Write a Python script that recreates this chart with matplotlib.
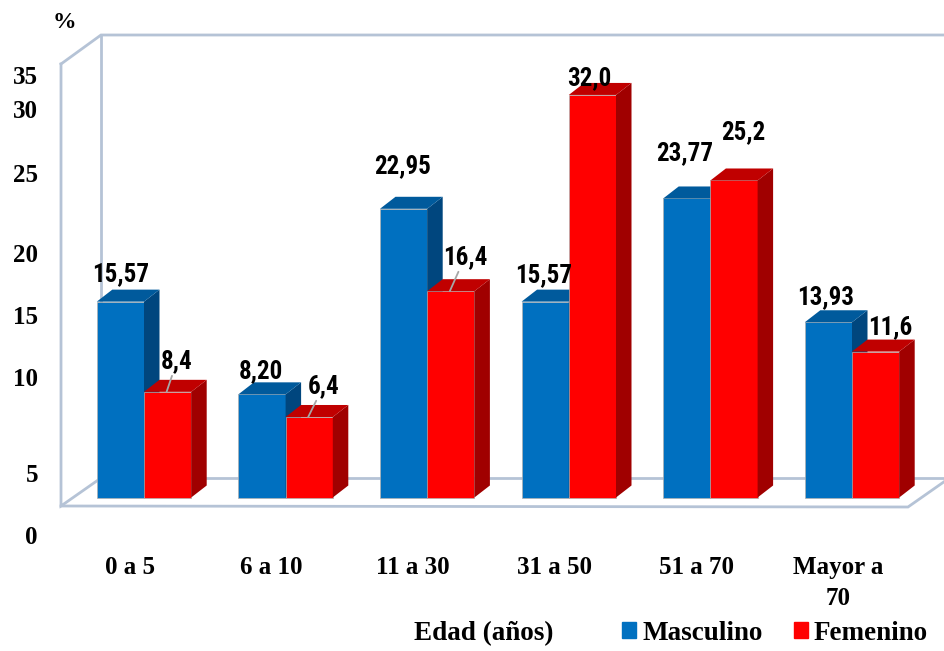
import matplotlib

matplotlib.use("Agg")
import matplotlib.pyplot as plt
from matplotlib.patches import Patch, Polygon

# Distribución por grupo de edad y sexo (%)
categories = ["0 a 5", "6 a 10", "11 a 30", "31 a 50", "51 a 70", "Mayor a\n70"]
masculino = [15.57, 8.20, 22.95, 15.57, 23.77, 13.93]
femenino = [8.4, 6.4, 16.4, 32.0, 25.2, 11.6]
y_labels = ["35", "30", "25", "20", "15", "10", "5", "0"]

COLORS = {
    "blue": "#0070C0",
    "blue_top": "#005A9C",
    "blue_side": "#00467E",
    "red": "#FF0000",
    "red_top": "#C00000",
    "red_side": "#A00000",
    "frame": "#B5C3D6",
    "leader": "#A6A6A6",
}

# canvas geometry (pixels, origin top-left)
W, H = 945, 651
X0, SX = 144.0, 141.6      # pixel of first group centre, pixels per group
Y0, SY = 497.5, 12.58      # pixel of the bar base, pixels per percent
DEPTH_PX = (15.5, 12.0)

# label rows for the value axis, and per-bar label nudges (px right, px up)
ytick_rows = [77, 112, 175, 256, 317, 380, 475, 538]
masc_offsets = [(0.6, 27.6), (-1, 23.3), (-0.6, 42.8), (-1.2, 26.6), (-2.3, 45.5), (-2.4, 25.3)]
fem_offsets = [(10.4, 30.8), (15.3, 31.0), (15.2, 34.2), (-2.4, 16.9), (10.7, 48.5), (15.4, 24.6)]
fem_leaders = [True, True, True, False, False, False]

plt.rcParams.update({
    "font.family": ["Liberation Serif", "DejaVu Serif"],
    "font.weight": "bold",
})
LABEL_FONT = ["Roboto Condensed", "Archivo Narrow", "Barlow Semi Condensed", "Liberation Sans"]


def fig_xy(x, y):
    return x / W, 1 - y / H


def bar3d(ax, x, w, h, front, top, side, dx, dy, z):
    ax.bar(x, h, width=w, align="edge", color=front, edgecolor="#B0B0B0",
           linewidth=0.5, zorder=z)
    side_pts = [(x + w, 0), (x + w + dx, dy), (x + w + dx, h + dy), (x + w, h)]
    top_pts = [(x, h), (x + dx, h + dy), (x + w + dx, h + dy), (x + w, h)]
    ax.add_patch(Polygon(side_pts, closed=True, facecolor=side, edgecolor="none", zorder=z))
    ax.add_patch(Polygon(top_pts, closed=True, facecolor=top, edgecolor="none", zorder=z))


fig = plt.figure(figsize=(W / 100, H / 100), dpi=100)
ax = fig.add_axes([0, 0, 1, 1])
ax.set_xlim((0 - X0) / SX, (W - X0) / SX)
ax.set_ylim((Y0 - H) / SY, Y0 / SY)
ax.axis("off")

# 3-D box outline behind the bars
frame = [
    [(61, 64), (101, 35), (950, 35)],
    [(101, 35), (101, 478), (950, 478)],
    [(61, 64), (61, 506), (101, 478)],
    [(61, 506), (908, 507), (948, 479)],
]
for path in frame:
    xs, ys = zip(*(fig_xy(px, py) for px, py in path))
    ax.plot(xs, ys, color=COLORS["frame"], lw=2.0, transform=fig.transFigure,
            clip_on=False, zorder=1, solid_joinstyle="miter")

dx = DEPTH_PX[0] / SX
dy = DEPTH_PX[1] / SY
w = 1 / 3
for i, (m, f) in enumerate(zip(masculino, femenino)):
    bar3d(ax, i - w, w, m, COLORS["blue"], COLORS["blue_top"], COLORS["blue_side"], dx, dy, 3 + 2 * i)
    bar3d(ax, i, w, f, COLORS["red"], COLORS["red_top"], COLORS["red_side"], dx, dy, 4 + 2 * i)

    mx, my = masc_offsets[i]
    ax.annotate(f"{m:.2f}".replace(".", ","), xy=(i - w / 2, m), xytext=(mx, my),
                textcoords="offset pixels", ha="center", va="center",
                fontsize=18, family=LABEL_FONT, fontweight="bold", zorder=20)
    fx, fy = fem_offsets[i]
    arrow = None
    if fem_leaders[i]:
        arrow = dict(arrowstyle="-", color=COLORS["leader"], lw=1.3, shrinkA=0, shrinkB=0)
    ax.annotate(f"{f:.1f}".replace(".", ","), xy=(i + w / 2 - 1 / SX, f), xytext=(fx, fy),
                textcoords="offset pixels", ha="center", va="center",
                fontsize=18, family=LABEL_FONT, fontweight="bold", zorder=20,
                arrowprops=arrow)

# category labels under each group
for i, cat in enumerate(categories):
    ax.text(i - 14 / SX, (Y0 - 556) / SY, cat, ha="center", va="top",
            fontsize=18, linespacing=1.45)

# value axis labels
for row, lab in zip(ytick_rows, y_labels):
    fig.text(*fig_xy(38, row), lab, ha="right", va="center", fontsize=18)
fig.text(*fig_xy(64, 23), "%", ha="center", va="center", fontsize=17)

fig.text(*fig_xy(484, 634), "Edad (años)", ha="center", va="center", fontsize=19.5)
handles = [Patch(color=COLORS["blue"]), Patch(color=COLORS["red"])]
fig.legend(handles, ["Masculino", "Femenino"], ncol=2, loc="center left",
           bbox_to_anchor=fig_xy(622, 633), frameon=False, fontsize=19.5,
           handlelength=0.52, handleheight=0.52, handletextpad=0.22,
           columnspacing=1.15, borderpad=0, borderaxespad=0)

fig.savefig("out.png", dpi=100)
